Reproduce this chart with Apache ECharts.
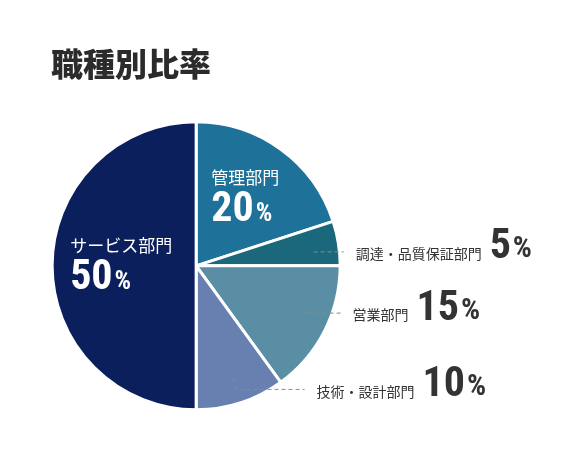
<!DOCTYPE html>
<html>
<head>
<meta charset="utf-8">
<title>職種別比率</title>
<style>
  html, body { margin: 0; padding: 0; background: #fff; }
  #chart { width: 562px; height: 468px; }
</style>
</head>
<body>
<div id="chart"></div>
<script src="https://cdn.jsdelivr.net/npm/echarts@6/dist/echarts.min.js"></script>
<script>
var titleText = '職種別比率';
var departments = ['管理部門', '調達・品質保証部門', '営業部門', '技術・設計部門', 'サービス部門'];
var ratios = [20, 5, 15, 10, 50];
var sliceColors = ['#1e7299', '#1b687c', '#5a8ea4', '#6880b0', '#0c1f5d'];
// labels drawn inside the slice, the rest get a dashed leader line
var insideNames = ['管理部門', 'サービス部門'];

var numFont = "'Roboto Condensed', 'Open Sans', sans-serif";
var numWeight = 'bold condensed';
var jpFont = "'Noto Sans CJK JP', sans-serif";

var chart = echarts.init(document.getElementById('chart'));

var mainData = departments.map(function (name, i) {
  var inside = insideNames.indexOf(name) >= 0;
  return {
    name: name,
    value: ratios[i],
    itemStyle: { color: sliceColors[i] },
    label: { show: inside }
  };
});

// leader line lengths for the outside labels
var lineLen = {
  '調達・品質保証部門': [2, 28],
  '営業部門': [5, 34],
  '技術・設計部門': [12, 62]
};
// small nudges of the labels (dx, dy)
var labelShift = {
  '管理部門': [5, -8],
  '調達・品質保証部門': [0, 5],
  '営業部門': [0, -9],
  '技術・設計部門': [6, -1]
};

var outerData = departments.map(function (name, i) {
  var inside = insideNames.indexOf(name) >= 0;
  var len = lineLen[name] || [0, 0];
  return {
    name: name,
    value: ratios[i],
    label: { show: !inside },
    labelLine: { show: !inside, length: len[0], length2: len[1] }
  };
});

function nudge(p) {
  var s = labelShift[departments[p.dataIndex]];
  if (!s) return {};
  var out = { dx: s[0], dy: s[1] };
  if (p.labelLinePoints) {
    out.labelLinePoints = p.labelLinePoints.map(function (pt, k) {
      if (k === 0) return [pt[0], pt[1] + (s[0] ? 0 : s[1])];
      if (k === 1) return [pt[0], pt[1] + s[1]];
      return [pt[0] + s[0], pt[1] + s[1]];
    });
  }
  return out;
}

chart.setOption({
  backgroundColor: '#fff',
  animation: false,
  title: {
    text: titleText,
    left: 46,
    top: 43,
    textStyle: {
      fontFamily: jpFont,
      fontSize: 32,
      fontWeight: 900,
      color: '#2b2b2b'
    }
  },
  series: [
    {
      type: 'pie',
      center: ['34.9%', '56.8%'],
      radius: 144,
      startAngle: 90,
      clockwise: true,
      avoidLabelOverlap: false,
      silent: true,
      itemStyle: { borderColor: '#fff', borderWidth: 3 },
      label: {
        position: 'inside',
        formatter: function (p) {
          return '{name|' + p.name + '}\n{num|' + p.value + '}{pct|%}';
        },
        rich: {
          name: { fontFamily: jpFont, fontSize: 17, color: '#fff', lineHeight: 26, align: 'left' },
          num: { fontFamily: numFont, fontSize: 42, fontWeight: numWeight, color: '#fff', lineHeight: 40, align: 'left', padding: [0, 2, 0, 0] },
          pct: { fontFamily: numFont, fontSize: 26, fontWeight: numWeight, color: '#fff', verticalAlign: 'bottom', align: 'left', padding: [0, 0, 3, 0] }
        }
      },
      labelLine: { show: false },
      labelLayout: nudge,
      data: mainData
    },
    {
      type: 'pie',
      center: ['34.9%', '56.8%'],
      radius: 119,
      startAngle: 90,
      clockwise: true,
      avoidLabelOverlap: false,
      silent: true,
      z: 5,
      itemStyle: { color: 'rgba(0,0,0,0)', borderWidth: 0 },
      label: {
        position: 'outside',
        distanceToLabelLine: 12,
        padding: [0, 0, 8, 0],
        formatter: function (p) {
          return '{name|' + p.name + '}{num|' + p.value + '}{pct|%}';
        },
        rich: {
          name: { fontFamily: jpFont, fontSize: 14, color: '#333', verticalAlign: 'bottom', padding: [0, 8, 7, 0] },
          num: { fontFamily: numFont, fontSize: 42, fontWeight: numWeight, color: '#333', lineHeight: 40, padding: [0, 2, 0, 0] },
          pct: { fontFamily: numFont, fontSize: 30, fontWeight: numWeight, color: '#333', verticalAlign: 'bottom', padding: [0, 0, 3, 0] }
        }
      },
      labelLine: {
        lineStyle: { color: '#8a8a8a', width: 1, type: [4, 3] }
      },
      labelLayout: nudge,
      data: outerData
    }
  ]
});
</script>
</body>
</html>
